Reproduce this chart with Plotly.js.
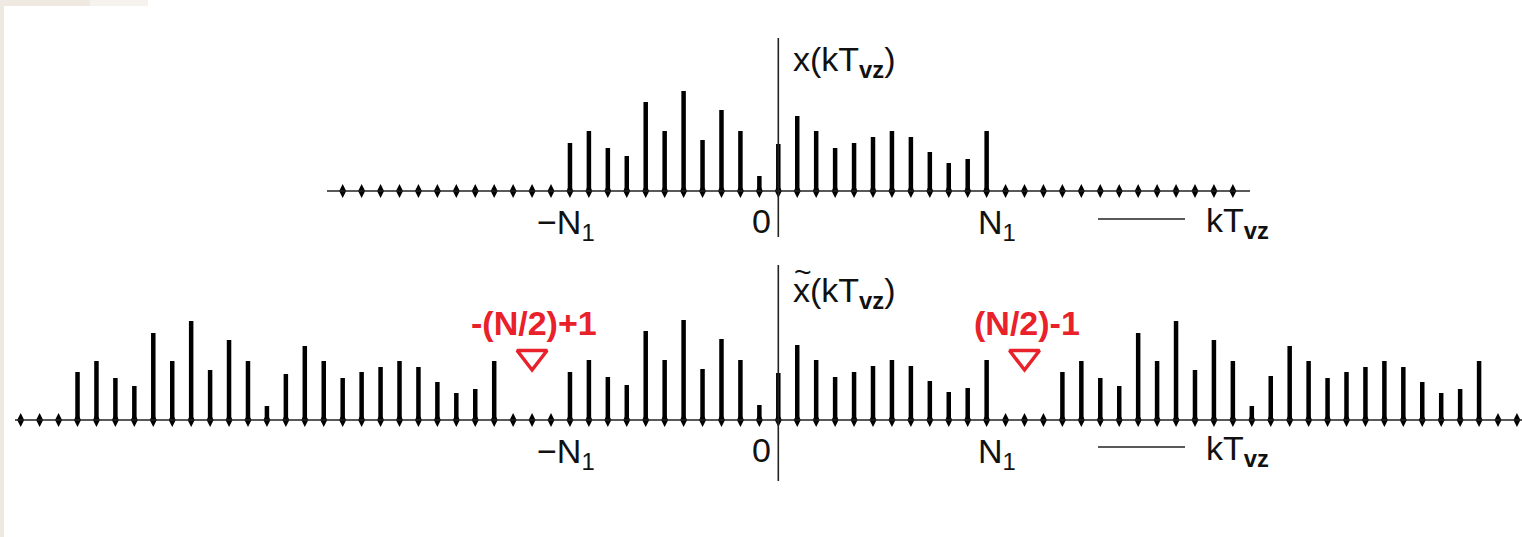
<!DOCTYPE html>
<html><head><meta charset="utf-8">
<script src="https://cdn.plot.ly/plotly-3.0.1.min.js"></script>
<style>html,body{margin:0;padding:0;background:#fff;overflow:hidden}</style>
</head><body><div id="chart" style="width:1522px;height:537px"></div>
<script>
// ---------- data ----------
const topStartK = -23;
const topValues = [0,0,0,0,0,0,0,0,0,0,0,0,
  48,60,43,35,89,60,100,51,81,60,15,47,75,60,43,48,54,60,54,39,28,32,60,
  0,0,0,0,0,0,0,0,0,0,0,0,0];
const bottomStartK = -40;
const bottomValues = [0,0,0,
  48,59,42,34,87,59,99,50,80,59,14,46,74,59,42,48,53,59,53,38,27,31,59,
  0,0,0,
  48,60,43,35,89,60,100,51,81,60,15,47,75,60,43,48,54,60,54,39,28,32,60,
  0,0,0,
  48,59,42,34,87,59,99,50,80,59,14,44,74,59,42,48,53,59,53,38,27,31,59,
  0,0];
const tickKs = [-11, 0, 11];
const tickLabels = ['\u2212N<sub>1</sub>', '0', 'N<sub>1</sub>'];
const markerKs = [-13, 13];
const markerLabels = ['-(N/2)+1', '(N/2)-1'];
const topTitle = 'x(kT<sub><b>vz</b></sub>)';
const bottomTitle = 'x(kT<sub><b>vz</b></sub>)';
const axisName = 'kT<sub><b>vz</b></sub>';

// ---------- geometry ----------
const W = 1522, H = 537;
const zeroPx = 778.3, stepPx = 18.94;
const xr = [-zeroPx / stepPx, (W - zeroPx) / stepPx];
const px2k = p => (p - zeroPx) / stepPx;
const PX = p => p / W, PY = p => 1 - p / H;
const FONT = 'Liberation Sans, Arial, sans-serif';
const RED = '#e8212b';

function stemTrace(start, vals, ya) {
  const x = [], y = [];
  vals.forEach((v, i) => { if (v > 0) { x.push(start + i, start + i, null); y.push(0, v, null); } });
  return {x, y, xaxis: 'x', yaxis: ya, mode: 'lines', type: 'scatter',
    line: {color: '#000', width: 4.5}, hoverinfo: 'skip', showlegend: false};
}
function dotTrace(start, vals, ya) {
  return {x: vals.map((v, i) => start + i), y: vals.map(() => 0), xaxis: 'x', yaxis: ya,
    mode: 'markers', type: 'scatter', marker: {symbol: 'diamond-tall', size: 10, color: '#000'},
    hoverinfo: 'skip', showlegend: false};
}

const traces = [
  stemTrace(topStartK, topValues, 'y'),
  dotTrace(topStartK, topValues, 'y'),
  stemTrace(bottomStartK, bottomValues, 'y2'),
  dotTrace(bottomStartK, bottomValues, 'y2'),
  {x: markerKs, y: markerKs.map(() => 420 - 357), xaxis: 'x', yaxis: 'y2', mode: 'markers',
   type: 'scatter', marker: {symbol: 'triangle-down-open', size: 26, color: RED, line: {width: 3.5, color: RED}},
   hoverinfo: 'skip', showlegend: false}
];

const axLine = {color: '#222', width: 1.6};
const shapes = [
  // background frame (beige edges)
  {type: 'rect', xref: 'paper', yref: 'paper', x0: 0, x1: PX(4), y0: 0, y1: 1, fillcolor: '#eee8e0', line: {width: 0}, layer: 'below'},
  {type: 'rect', xref: 'paper', yref: 'paper', x0: 0, x1: PX(90), y0: PY(6), y1: 1, fillcolor: '#efe9e2', line: {width: 0}, layer: 'below'},
  {type: 'rect', xref: 'paper', yref: 'paper', x0: PX(90), x1: PX(148), y0: PY(6), y1: 1, fillcolor: '#f6f3ef', line: {width: 0}, layer: 'below'},
  // top axes
  {type: 'line', xref: 'x', yref: 'y', x0: px2k(327), x1: px2k(1250), y0: 0, y1: 0, line: axLine},
  {type: 'line', xref: 'x', yref: 'y', x0: 0, x1: 0, y0: 191 - 38, y1: 191 - 237, line: axLine},
  {type: 'line', xref: 'x', yref: 'y', x0: px2k(1098), x1: px2k(1185), y0: 191 - 219, y1: 191 - 219, line: axLine},
  // bottom axes
  {type: 'line', xref: 'x', yref: 'y2', x0: px2k(15), x1: px2k(1522), y0: 0, y1: 0, line: axLine},
  {type: 'line', xref: 'x', yref: 'y2', x0: 0, x1: 0, y0: 420 - 265, y1: 420 - 481, line: axLine},
  {type: 'line', xref: 'x', yref: 'y2', x0: px2k(1098), x1: px2k(1185), y0: 420 - 447, y1: 420 - 447, line: axLine}
];

const txt = (text, xpx, ypx, opts = {}) => Object.assign({
  text, xref: 'paper', yref: 'paper', x: PX(xpx), y: PY(ypx), showarrow: false,
  xanchor: 'center', yanchor: 'middle', font: {family: FONT, size: 34, color: '#111'}
}, opts);

const labelPx = [566, 761, 997];
const annotations = [];
[[224, 62, 222], [453, 292, 450]].forEach(([ly, ty, ay], row) => {
  tickKs.forEach((k, i) => annotations.push(txt(tickLabels[i], labelPx[i], ly + (i === 1 ? -3 : 0))));
  annotations.push(txt(row === 0 ? topTitle : bottomTitle, 791, ty, {xanchor: 'left'}));
  annotations.push(txt(axisName, 1204, ay, {xanchor: 'left'}));
});
// tilde above the x of the periodic signal's name
annotations.push(txt('~', 803, 271, {font: {family: FONT, size: 30, color: '#111'}}));
markerKs.forEach((k, i) => annotations.push(txt('<b>' + markerLabels[i] + '</b>', zeroPx + k * stepPx + 2, 323,
  {font: {family: FONT, size: 34, color: RED}})));

const layout = {
  width: W, height: H, margin: {l: 0, r: 0, t: 0, b: 0, pad: 0},
  paper_bgcolor: '#fff', plot_bgcolor: 'rgba(0,0,0,0)',
  xaxis: {range: xr, visible: false, fixedrange: true},
  yaxis: {domain: [PY(260), 1], range: [191 - 260, 191], visible: false, fixedrange: true},
  yaxis2: {domain: [0, PY(262)], range: [420 - 537, 420 - 262], visible: false, fixedrange: true},
  shapes, annotations, showlegend: false
};
Plotly.newPlot('chart', traces, layout, {staticPlot: true, displayModeBar: false});
</script></body></html>
